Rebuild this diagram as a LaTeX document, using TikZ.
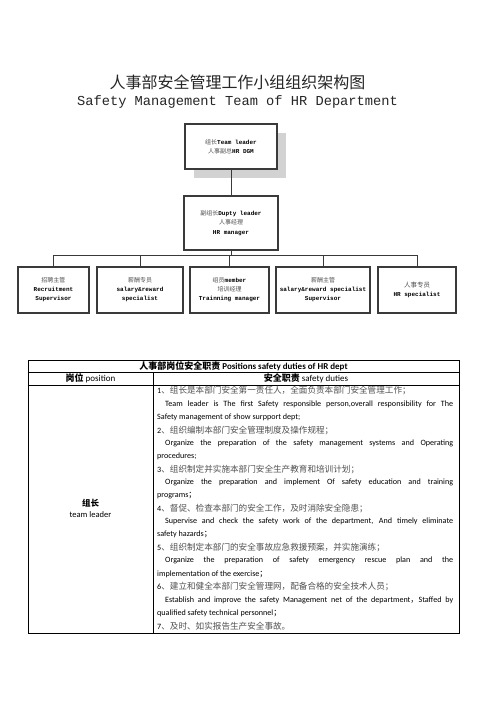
\documentclass[tikz,border=0pt]{standalone}
\usepackage{fontspec}
\setmainfont{Carlito}
\newfontfamily\cjk{Noto Sans CJK SC}
\newfontfamily\monof{Liberation Mono}
\definecolor{cg}{HTML}{505050}
\definecolor{boxline}{HTML}{3A3A3A}
\definecolor{shadowgray}{HTML}{D2D2D2}
\newcommand\zhg[1]{{\cjk\color{cg}#1}}
\newcommand\enm[1]{{\monof\bfseries #1}}
\newcommand\tzh[2]{{\color{black}#1}{\cjk\fontsize{8.6}{9}\selectfont\color{cg}#2}}
\begin{document}
\begin{tikzpicture}[x=1pt,y=-1pt,
  orgbox/.style={draw=boxline, line width=1.1pt, fill=white, align=center, inner sep=0pt,
     font=\fontsize{6}{9}\selectfont},
  conn/.style={draw=boxline, line width=0.9pt},
  tline/.style={anchor=west, inner sep=0pt, font=\fontsize{8.1}{9}\selectfont},
  cell/.style={inner sep=0pt, align=center},
  grid/.style={draw=black, line width=1pt}]
\useasboundingbox[fill=white] (0,0) rectangle (496,702);

% titles
\node[inner sep=0pt, font=\cjk\fontsize{16}{18}\selectfont, text=black!85] (t1) at (237.5,82) {人事部安全管理工作小组组织架构图};
\node[inner sep=0pt, font=\monof\fontsize{13.7}{15}\selectfont, text=black!85] (t2) at (237.5,102) {Safety Management Team of HR Department};

% org chart
\fill[shadowgray] (194,133) rectangle (286,178);
\node[orgbox, line width=1.6pt, minimum width=92pt, minimum height=45pt] (tl) at (231,146.5)
  {\zhg{组长}\enm{Team leader}\\ \zhg{人事副总}\enm{HR DGM}};
\node[orgbox, minimum width=94pt, minimum height=54pt, font=\fontsize{6}{9.5}\selectfont] (dl) at (231,223)
  {\zhg{副组长}\enm{Dupty leader}\\ \zhg{人事经理}\\ \enm{HR manager}};

\node[orgbox, minimum width=71pt, minimum height=46pt] (ba) at (53.5,290)
  {\zhg{招聘主管}\\ \enm{Recruitment}\\ \enm{Supervisor}};
\node[orgbox, minimum width=86pt, minimum height=46pt] (bb) at (140,290)
  {\zhg{薪酬专员}\\ \enm{salary\&reward}\\ \enm{specialist}};
\node[orgbox, minimum width=79pt, minimum height=46pt] (bc) at (229.5,290)
  {\zhg{组员}\enm{member}\\ \zhg{培训经理}\\ \enm{Trainning manager}};
\node[orgbox, minimum width=94pt, minimum height=46pt] (bd) at (323,290)
  {\zhg{薪酬主管}\\ \enm{salary\&reward specialist}\\ \enm{Supervisor}};
\node[orgbox, minimum width=78pt, minimum height=46pt] (be) at (417,290)
  {\zhg{\fontsize{6.5}{9}\selectfont 人事专员}\\ \enm{HR specialist}};

\coordinate (bus) at (0,255);
\draw[conn] (tl.south) -- (dl.north);
\draw[conn] (dl.south) -- (dl.south |- bus);
\draw[conn] (ba.north |- bus) -- (be.north |- bus);
\foreach \b in {ba,bb,bc,bd,be} \draw[conn] (\b.north) -- (\b.north |- bus);

% table grid
\draw[grid] (28,360) rectangle (459,633);
\draw[grid] (28,372) -- (459,372);
\draw[grid] (28,385) -- (459,385);
\draw[grid] (153,372) -- (153,633);

\node[cell, font=\bfseries\fontsize{9}{10}\selectfont] (h1) at (243.5,366)
  {{\cjk\bfseries 人事部岗位安全职责} Positions safety duties of HR dept};
\node[cell, font=\fontsize{9}{10}\selectfont] (h2) at (90.5,378.5) {{\cjk\bfseries 岗位} position};
\node[cell, font=\fontsize{9}{10}\selectfont] (h3) at (306,378.5) {{\cjk\bfseries 安全职责} safety duties};
\node[cell, font=\fontsize{8.5}{10}\selectfont] (p1) at (90.5,503) {{\cjk\bfseries 组长}};
\node[cell, font=\fontsize{8.5}{10}\selectfont] (p2) at (90.5,515) {team leader};

% duty lines
\node[tline] (l1) at (157,391.00) {\tzh{1}{、组长是本部门安全第一责任人，全面负责本部门安全管理工作；}};
\node[tline] (l2) at (157,404.06) {\makebox[296pt][s]{\hspace*{8pt}Team leader is The first Safety responsible person,overall responsibility for The}};
\node[tline] (l3) at (157,417.12) {Safety management of show surpport dept;};
\node[tline] (l4) at (157,430.18) {\tzh{2}{、组织编制本部门安全管理制度及操作规程；}};
\node[tline] (l5) at (157,443.24) {\makebox[296pt][s]{\hspace*{8pt}Organize the preparation of the safety management systems and Operating}};
\node[tline] (l6) at (157,456.30) {procedures;};
\node[tline] (l7) at (157,469.36) {\tzh{3}{、组织制定并实施本部门安全生产教育和培训计划；}};
\node[tline] (l8) at (157,482.42) {\makebox[296pt][s]{\hspace*{8pt}Organize the preparation and implement Of safety education and training}};
\node[tline] (l9) at (157,495.48) {programs{\cjk ；}};
\node[tline] (l10) at (157,508.54) {\tzh{4}{、督促、检查本部门的安全工作，及时消除安全隐患；}};
\node[tline] (l11) at (157,521.60) {\makebox[296pt][s]{\hspace*{8pt}Supervise and check the safety work of the department, And timely eliminate}};
\node[tline] (l12) at (157,534.66) {safety hazards{\cjk ；}};
\node[tline] (l13) at (157,547.72) {\tzh{5}{、组织制定本部门的安全事故应急救援预案，并实施演练；}};
\node[tline] (l14) at (157,560.78) {\makebox[296pt][s]{\hspace*{8pt}Organize the preparation of safety emergency rescue plan and the}};
\node[tline] (l15) at (157,573.84) {implementation of the exercise{\cjk ；}};
\node[tline] (l16) at (157,586.90) {\tzh{6}{、建立和健全本部门安全管理网，配备合格的安全技术人员；}};
\node[tline] (l17) at (157,599.96) {\makebox[296pt][s]{\hspace*{8pt}Establish and improve the safety Management net of the department{\cjk ，}Staffed by}};
\node[tline] (l18) at (157,613.02) {qualified safety technical personnel{\cjk ；}};
\node[tline] (l19) at (157,626.08) {\tzh{7}{、及时、如实报告生产安全事故。}};
\end{tikzpicture}
\end{document}
